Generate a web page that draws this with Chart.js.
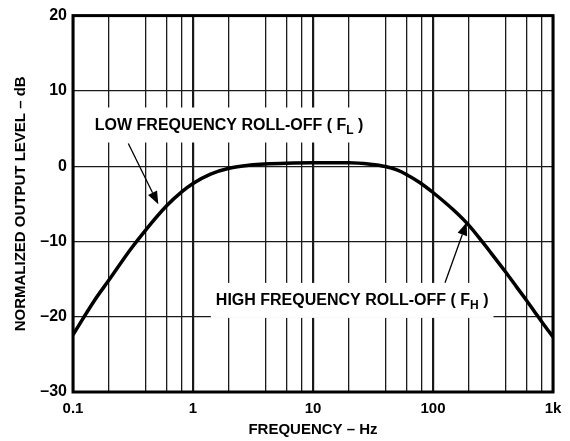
<!DOCTYPE html>
<html>
<head>
<meta charset="utf-8">
<script src="https://cdn.jsdelivr.net/npm/chart.js@4.4.1/dist/chart.umd.min.js"></script>
<style>
  html, body { margin: 0; padding: 0; background: #fff; }
  #wrap { width: 570px; height: 441px; }
</style>
</head>
<body>
<div id="wrap"><canvas id="resp" width="570" height="441"></canvas></div>
<script>
/* frequency response (Hz, dB) */
const freqHz = [0.1, 0.15, 0.2, 0.3, 0.4, 0.6, 0.8, 1, 1.4, 2,
                3, 4, 6, 10, 20, 30, 40, 50, 60, 78,
                100, 150, 200, 262, 300, 400, 500, 600, 700, 800, 1000];
const levelDb = [-22.4, -17.9, -15.1, -11.1, -8.55, -5.3, -3.45, -2.3, -1.05, -0.27,
                 0.15, 0.3, 0.4, 0.45, 0.45, 0.25, -0.05, -0.5, -1.1, -2.2,
                 -3.5, -5.9, -7.9, -10.2, -11.4, -14.0, -16.1, -17.8, -19.3, -20.6, -22.7];

// vertical grid lines (1-2-4-6-8 per decade) and the labelled decades
const gridFreqs = [0.1, 0.2, 0.4, 0.6, 0.8, 1, 2, 4, 6, 8, 10, 20, 40, 60, 80,
                   100, 200, 400, 600, 800, 1000];
const xTickValues = [0.1, 1, 10, 100, 1000];
const xTickLabels = ['0.1', '1', '10', '100', '1k'];
const yTickValues = [-30, -20, -10, 0, 10, 20];
const yTickLabels = ['\u201330', '\u201320', '\u201310', '0', '10', '20'];

const FONT = '"Liberation Sans", Arial, Helvetica, sans-serif';

// callouts: text + subscript, with arrow (positions in data units)
const notes = [
  { text: 'LOW FREQUENCY ROLL-OFF ( F', sub: 'L', x: 0.152, y: 5.4,
    from: [0.289, 3.0], to: [0.514, -5.07] },
  { text: 'HIGH FREQUENCY ROLL-OFF ( F', sub: 'H', x: 1.55, y: -17.9,
    from: [125.9, -15.5], to: [191, -7.46] }
];

const isDecade = v => xTickValues.some(d => Math.abs(d - v) < 1e-9);

const calloutPlugin = {
  id: 'callouts',
  afterDatasetsDraw(chart) {
    const { ctx, chartArea: a, scales: { x, y } } = chart;
    ctx.save();

    notes.forEach(n => {
      const px = x.getPixelForValue(n.x);
      const py = y.getPixelForValue(n.y);
      ctx.font = 'bold 16px ' + FONT;
      const w1 = ctx.measureText(n.text).width;
      const w3 = ctx.measureText(' )').width;
      ctx.font = 'bold 12px ' + FONT;
      const w2 = ctx.measureText(n.sub).width;

      ctx.fillStyle = '#fff';
      ctx.fillRect(px - 5, py - 18, w1 + w2 + w3 + 10, 35);

      ctx.fillStyle = '#000';
      ctx.textBaseline = 'middle';
      ctx.textAlign = 'left';
      ctx.font = 'bold 16px ' + FONT;
      ctx.fillText(n.text, px, py);
      ctx.fillText(' )', px + w1 + w2, py);
      ctx.font = 'bold 12px ' + FONT;
      ctx.fillText(n.sub, px + w1, py + 5);

      // arrow
      const x0 = x.getPixelForValue(n.from[0]), y0 = y.getPixelForValue(n.from[1]);
      const x1 = x.getPixelForValue(n.to[0]), y1 = y.getPixelForValue(n.to[1]);
      const ang = Math.atan2(y1 - y0, x1 - x0);
      const len = 13, half = 5;
      const bx = x1 - len * Math.cos(ang), by = y1 - len * Math.sin(ang);
      ctx.strokeStyle = '#000';
      ctx.lineWidth = 1.3;
      ctx.beginPath();
      ctx.moveTo(x0, y0);
      ctx.lineTo(bx, by);
      ctx.stroke();
      ctx.beginPath();
      ctx.moveTo(x1, y1);
      ctx.lineTo(bx + half * Math.sin(ang), by - half * Math.cos(ang));
      ctx.lineTo(bx - half * Math.sin(ang), by + half * Math.cos(ang));
      ctx.closePath();
      ctx.fill();
    });

    // heavy plot frame
    ctx.strokeStyle = '#000';
    ctx.lineWidth = 3;
    ctx.strokeRect(a.left, a.top, a.right - a.left, a.bottom - a.top);
    ctx.restore();
  }
};

new Chart(document.getElementById('resp').getContext('2d'), {
  type: 'scatter',
  data: {
    datasets: [{
      data: freqHz.map((f, i) => ({ x: f, y: levelDb[i] })),
      showLine: true,
      borderColor: '#000',
      borderWidth: 3.5,
      pointRadius: 0,
      cubicInterpolationMode: 'monotone',
      fill: false
    }]
  },
  options: {
    responsive: false,
    animation: false,
    devicePixelRatio: 1,
    layout: { padding: { top: 10, right: 17, left: 0, bottom: 0 } },
    plugins: { legend: { display: false }, tooltip: { enabled: false } },
    scales: {
      x: {
        type: 'logarithmic',
        min: 0.1,
        max: 1000,
        afterFit: s => { s.height = 49; },
        afterBuildTicks: s => { s.ticks = gridFreqs.map(v => ({ value: v })); },
        grid: {
          drawTicks: false,
          color: '#1a1a1a',
          lineWidth: c => (c.tick && isDecade(c.tick.value) ? 2.2 : 1.3)
        },
        border: { display: false },
        ticks: {
          autoSkip: false,
          maxRotation: 0,
          padding: 8,
          color: '#000',
          font: { family: FONT, size: 15, weight: 'bold' },
          callback: v => {
            const i = xTickValues.findIndex(d => Math.abs(d - v) < 1e-9);
            return i >= 0 ? xTickLabels[i] : '';
          }
        },
        title: {
          display: true,
          text: 'FREQUENCY \u2013 Hz',
          color: '#000',
          padding: { top: 0, bottom: 2 },
          font: { family: FONT, size: 15, weight: 'bold' }
        }
      },
      y: {
        min: -30,
        max: 20,
        afterFit: s => { s.width = 73; },
        afterBuildTicks: s => { s.ticks = yTickValues.map(v => ({ value: v })); },
        grid: { drawTicks: false, color: '#1a1a1a', lineWidth: 1.3 },
        border: { display: false },
        ticks: {
          padding: 6,
          color: '#000',
          font: { family: FONT, size: 16, weight: 'bold' },
          callback: v => {
            const i = yTickValues.indexOf(v);
            return i >= 0 ? yTickLabels[i] : '';
          }
        },
        title: {
          display: true,
          text: 'NORMALIZED OUTPUT LEVEL \u2013 dB',
          color: '#000',
          padding: { top: 12, bottom: 0 },
          font: { family: FONT, size: 15, weight: 'bold' }
        }
      }
    }
  },
  plugins: [calloutPlugin]
});
</script>
</body>
</html>
